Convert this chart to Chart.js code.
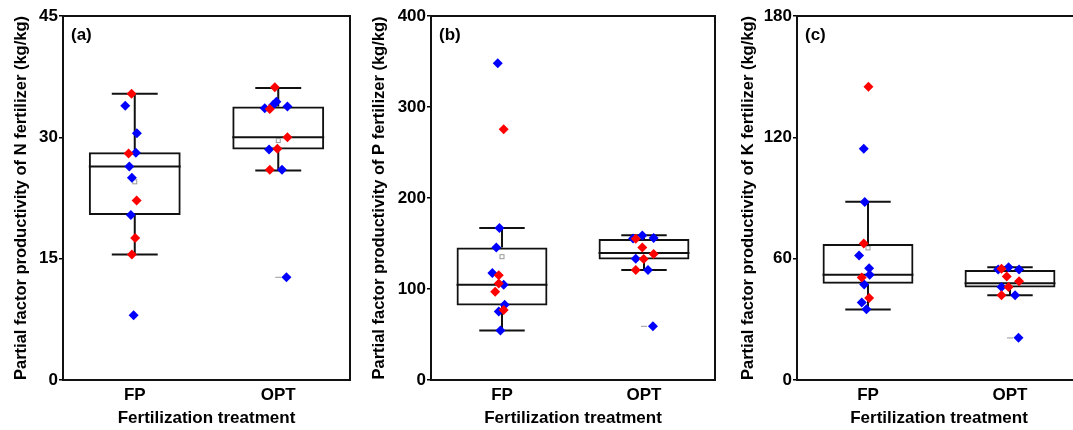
<!DOCTYPE html>
<html>
<head>
<meta charset="utf-8">
<script src="https://cdn.jsdelivr.net/npm/chart.js@4.4.1/dist/chart.umd.min.js"></script>
<style>
html, body { margin: 0; padding: 0; background: #fff; overflow: hidden; width: 1073px; height: 430px; }
canvas { position: absolute; top: 0; }
</style>
</head>
<body>
<canvas id="chartN" style="left:0" width="360" height="430"></canvas>
<canvas id="chartP" style="left:360px" width="360" height="430"></canvas>
<canvas id="chartK" style="left:720px" width="366" height="430"></canvas>
<script>
// boxplot + jittered points, three panels (N, P, K)
const categories = ['FP', 'OPT'];

// (a) N fertilizer
const nLow = [15.5, 25.9];
const nQ1 = [20.4, 28.5];
const nMed = [26.4, 30.0];
const nQ3 = [28.15, 33.8];
const nHigh = [35.4, 36.1];
const nMean = [24.5, 29.6];
const nOut = [null, 12.7];
const nFpBlue = [33.9, 30.5, 28.1, 26.4, 25.0, 20.4, 8.0];
const nFpBlueJit = [-0.066, 0.015, 0.008, -0.038, -0.02, -0.027, -0.008];
const nFpRed = [35.4, 28.0, 22.2, 17.55, 15.5];
const nFpRedJit = [-0.022, -0.043, 0.013, 0.003, -0.02];
const nOptBlue = [34.4, 34.0, 33.6, 33.8, 28.5, 26.0, 12.7];
const nOptBlueJit = [-0.013, -0.036, -0.094, 0.064, -0.064, 0.026, 0.057];
const nOptRed = [36.2, 33.5, 30.0, 28.6, 26.0];
const nOptRedJit = [-0.024, -0.059, 0.064, -0.006, -0.059];

// (b) P fertilizer
const pLow = [54.3, 121];
const pQ1 = [82, 132.5];
const pMed = [104.7, 139.5];
const pQ3 = [145.7, 155];
const pHigh = [167, 159];
const pMean = [135.5, null];
const pOut = [null, 59];
const pFpBlue = [348, 167, 145.7, 117.6, 104.7, 82.7, 75.4, 54.5];
const pFpBlueJit = [-0.03, -0.018, -0.04, -0.068, 0.012, 0.019, -0.023, -0.011];
const pFpRed = [275.6, 115, 106, 97, 77];
const pFpRedJit = [0.012, -0.023, -0.023, -0.048, 0.012];
const pOptBlue = [158.9, 156, 155.5, 133.3, 121, 59];
const pOptBlueJit = [-0.012, 0.068, -0.077, -0.058, 0.028, 0.063];
const pOptRed = [155.3, 145.7, 138.5, 133, 121];
const pOptRedJit = [-0.058, -0.012, 0.068, -0.002, -0.058];

// (c) K fertilizer
const kLow = [34.9, 41.9];
const kQ1 = [47.6, 45.8];
const kMed = [52, 47.8];
const kQ3 = [67.3, 54.4];
const kHigh = [88.1, 55.7];
const kMean = [65.3, null];
const kOut = [null, 20.8];
const kFpBlue = [114.3, 88, 61.6, 55.2, 52, 47.2, 38.3, 35];
const kFpBlueJit = [-0.03, -0.023, -0.063, 0.008, 0.012, -0.027, -0.044, -0.011];
const kFpRed = [145, 67.5, 50.7, 40.6];
const kFpRedJit = [0.003, -0.03, -0.044, 0.008];
const kOptBlue = [54.6, 55.7, 54.6, 46, 41.9, 20.9];
const kOptBlueJit = [-0.083, -0.01, 0.064, -0.06, 0.036, 0.06];
const kOptRed = [55, 51.2, 48.8, 46, 41.9];
const kOptRedJit = [-0.06, -0.023, 0.064, -0.01, -0.06];

Chart.defaults.font.family = "'Liberation Sans', Arial, sans-serif";
Chart.defaults.color = '#000';

function pts(groups) {
    let out = [];
    groups.forEach(([vals, jit], i) => {
        vals.forEach((v, j) => out.push({x: i + jit[j], y: v}));
    });
    return out;
}

const boxExtras = {
    id: 'boxExtras',
    beforeDatasetsDraw(chart, args, opts) {
        const {ctx, chartArea, scales: {x, y}} = chart;
        const bars = chart.getDatasetMeta(chart.data.datasets.length - 1).data;
        ctx.save();
        ctx.strokeStyle = '#111';
        ctx.lineWidth = 2;
        categories.forEach((c, i) => {
            const cx = x.getPixelForValue(i);
            const half = bars[i].width / 2;
            const cap = half / 2;
            const yHi = y.getPixelForValue(opts.high[i]);
            const yLo = y.getPixelForValue(opts.low[i]);
            const yQ1 = y.getPixelForValue(opts.q1[i]);
            const yQ3 = y.getPixelForValue(opts.q3[i]);
            const yMed = y.getPixelForValue(opts.med[i]);
            ctx.beginPath();
            ctx.moveTo(cx, yQ3); ctx.lineTo(cx, yHi);
            ctx.moveTo(cx - cap, yHi); ctx.lineTo(cx + cap, yHi);
            ctx.moveTo(cx, yQ1); ctx.lineTo(cx, yLo);
            ctx.moveTo(cx - cap, yLo); ctx.lineTo(cx + cap, yLo);
            ctx.moveTo(cx - half, yMed); ctx.lineTo(cx + half, yMed);
            ctx.stroke();
            if (opts.mean[i] != null) {
                const ym = y.getPixelForValue(opts.mean[i]);
                ctx.save();
                ctx.strokeStyle = '#999';
                ctx.lineWidth = 1;
                ctx.strokeRect(cx - 2, ym - 2, 4, 4);
                ctx.restore();
            }
            if (opts.out[i] != null) {
                const yo = y.getPixelForValue(opts.out[i]);
                ctx.save();
                ctx.strokeStyle = '#999';
                ctx.lineWidth = 1;
                ctx.beginPath();
                ctx.moveTo(cx - 3, yo); ctx.lineTo(cx + 3, yo);
                ctx.stroke();
                ctx.restore();
            }
        });
        ctx.strokeRect(chartArea.left, chartArea.top, chartArea.right - chartArea.left, chartArea.bottom - chartArea.top);
        ctx.fillStyle = '#000';
        ctx.font = "bold 17px 'Liberation Sans', Arial, sans-serif";
        ctx.textBaseline = 'middle';
        ctx.fillText(opts.label, chartArea.left + 8, chartArea.top + 19);
        ctx.restore();
    }
};

function makePanel(id, p) {
    return new Chart(document.getElementById(id), {
        type: 'bar',
        data: {
            datasets: [{
                type: 'scatter',
                data: pts([[p.fpRed, p.fpRedJit], [p.optRed, p.optRedJit]]),
                pointStyle: 'rectRot',
                pointRadius: 5,
                borderWidth: 0,
                backgroundColor: '#ff0000'
            }, {
                type: 'scatter',
                data: pts([[p.fpBlue, p.fpBlueJit], [p.optBlue, p.optBlueJit]]),
                pointStyle: 'rectRot',
                pointRadius: 5,
                borderWidth: 0,
                backgroundColor: '#0000ff'
            }, {
                type: 'bar',
                data: categories.map((c, i) => ({x: i, y: [p.q1[i], p.q3[i]]})),
                backgroundColor: 'rgba(0,0,0,0)',
                borderColor: '#111',
                borderWidth: 2,
                borderSkipped: false,
                barPercentage: 0.64,
                categoryPercentage: 1
            }]
        },
        options: {
            responsive: false,
            animation: false,
            layout: {padding: {top: 16, right: p.padRight, left: 0, bottom: 0}},
            plugins: {
                legend: {display: false},
                tooltip: {enabled: false},
                boxExtras: {label: p.label, low: p.low, q1: p.q1, med: p.med, q3: p.q3, high: p.high, mean: p.mean, out: p.out}
            },
            scales: {
                x: {
                    type: 'linear',
                    offset: false,
                    min: -0.5,
                    max: 1.5,
                    afterBuildTicks: s => { s.ticks = categories.map((c, i) => ({value: i})); },
                    afterFit: s => { s.height = 50; },
                    grid: {display: false, offset: false},
                    border: {display: false},
                    ticks: {
                        callback: v => categories[v],
                        font: {size: 17, weight: 'bold'},
                        padding: -3
                    },
                    title: {
                        display: true,
                        text: 'Fertilization treatment',
                        font: {size: 17, weight: 'bold'},
                        padding: {top: 0, bottom: 1}
                    }
                },
                y: {
                    min: 0,
                    max: p.max,
                    afterFit: s => { s.width = p.axisW; },
                    grid: {drawOnChartArea: false, drawTicks: true, tickLength: 4, color: '#000', lineWidth: 1.5},
                    border: {display: false},
                    ticks: {
                        stepSize: p.step,
                        font: {size: 17, weight: 'bold'},
                        padding: 1
                    },
                    title: {
                        display: true,
                        text: p.title,
                        font: {size: 16.5, weight: 'bold'},
                        padding: {top: p.titlePad, bottom: 0}
                    }
                }
            }
        },
        plugins: [boxExtras]
    });
}

makePanel('chartN', {
    label: '(a)', title: 'Partial factor productivity of N fertilizer (kg/kg)',
    max: 45, step: 15, axisW: 63, padRight: 10, titlePad: 12,
    low: nLow, q1: nQ1, med: nMed, q3: nQ3, high: nHigh, mean: nMean, out: nOut,
    fpBlue: nFpBlue, fpBlueJit: nFpBlueJit, fpRed: nFpRed, fpRedJit: nFpRedJit,
    optBlue: nOptBlue, optBlueJit: nOptBlueJit, optRed: nOptRed, optRedJit: nOptRedJit
});

makePanel('chartP', {
    label: '(b)', title: 'Partial factor productivity of P fertilizer (kg/kg)',
    max: 400, step: 100, axisW: 71, padRight: 3, titlePad: 10,
    low: pLow, q1: pQ1, med: pMed, q3: pQ3, high: pHigh, mean: pMean, out: pOut,
    fpBlue: pFpBlue, fpBlueJit: pFpBlueJit, fpRed: pFpRed, fpRedJit: pFpRedJit,
    optBlue: pOptBlue, optBlueJit: pOptBlueJit, optRed: pOptRed, optRedJit: pOptRedJit
});

makePanel('chartK', {
    label: '(c)', title: 'Partial factor productivity of K fertilizer (kg/kg)',
    max: 180, step: 60, axisW: 77, padRight: 4, titlePad: 19,
    low: kLow, q1: kQ1, med: kMed, q3: kQ3, high: kHigh, mean: kMean, out: kOut,
    fpBlue: kFpBlue, fpBlueJit: kFpBlueJit, fpRed: kFpRed, fpRedJit: kFpRedJit,
    optBlue: kOptBlue, optBlueJit: kOptBlueJit, optRed: kOptRed, optRedJit: kOptRedJit
});
</script>
</body>
</html>
